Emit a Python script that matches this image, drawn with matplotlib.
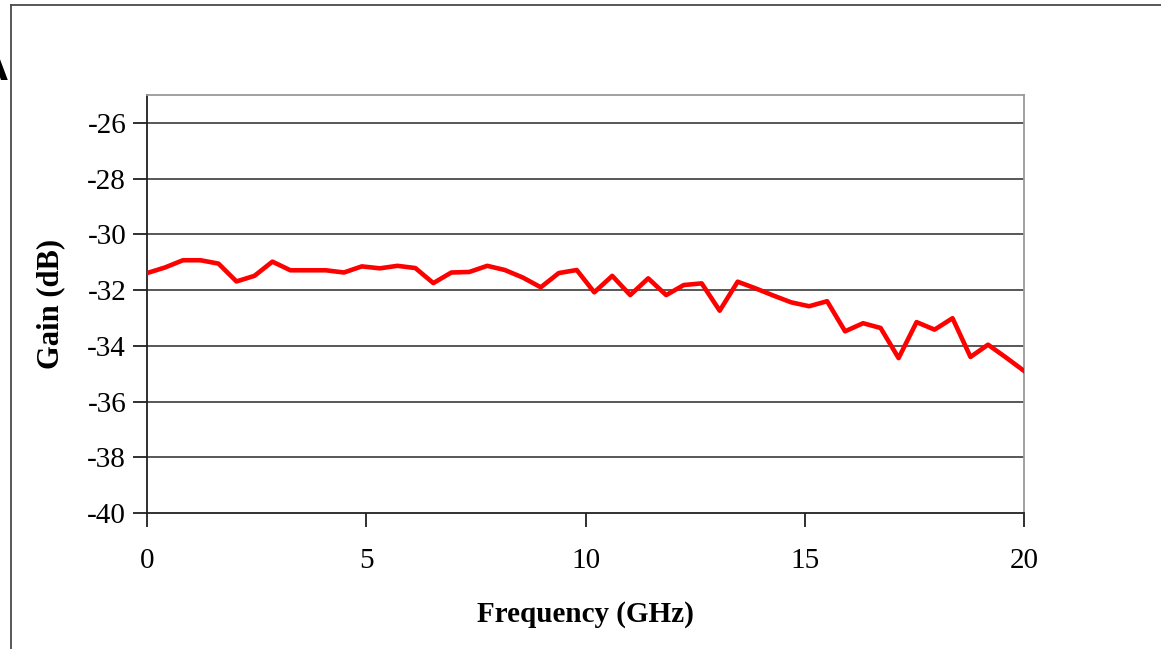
"""Gain vs frequency (0-20 GHz), redrawn from a scanned Excel-style chart."""

import matplotlib
matplotlib.use("Agg")
import matplotlib.pyplot as plt  # noqa: E402
from matplotlib.lines import Line2D  # noqa: E402

# sweep points (GHz), 50 evenly spaced samples over 0-20 GHz
freq_ghz = [0.00, 0.41, 0.82, 1.22, 1.63, 2.04, 2.45, 2.86, 3.27, 3.67,
            4.08, 4.49, 4.90, 5.31, 5.71, 6.12, 6.53, 6.94, 7.35, 7.76,
            8.16, 8.57, 8.98, 9.39, 9.80, 10.20, 10.61, 11.02, 11.43, 11.84,
            12.24, 12.65, 13.06, 13.47, 13.88, 14.29, 14.69, 15.10, 15.51, 15.92,
            16.33, 16.73, 17.14, 17.55, 17.96, 18.37, 18.78, 19.18, 19.59, 20.00]

gain_db = [-31.39, -31.19, -30.93, -30.93, -31.05, -31.69, -31.49, -30.98, -31.29, -31.29,
           -31.29, -31.37, -31.15, -31.22, -31.13, -31.21, -31.75, -31.37, -31.35, -31.13,
           -31.28, -31.55, -31.90, -31.39, -31.28, -32.08, -31.49, -32.18, -31.58, -32.18,
           -31.82, -31.76, -32.74, -31.70, -31.94, -32.20, -32.44, -32.58, -32.40, -33.48,
           -33.19, -33.36, -34.44, -33.15, -33.42, -33.01, -34.40, -33.96, -34.42, -34.90]

x_ticks = [0, 5, 10, 15, 20]
y_ticks = [-40, -38, -36, -34, -32, -30, -28, -26]

W, H = 1161, 649
SERIF = ["Liberation Serif", "DejaVu Serif"]

fig = plt.figure(figsize=(W / 100, H / 100), dpi=100)
ax = fig.add_axes([147 / W, 1 - 513 / H, (1024 - 147) / W, (513 - 95) / H])

ax.plot(freq_ghz, gain_db, color="#ff0000", lw=3.3, solid_joinstyle="round", zorder=3)

ax.set_xlim(0, 20)
ax.set_ylim(-40, -25)
ax.set_xticks(x_ticks)
ax.set_yticks(y_ticks)
ax.set_xticklabels([str(t) for t in x_ticks], family=SERIF, fontsize=21)
ax.set_yticklabels([str(t) for t in y_ticks], family=SERIF, fontsize=21)
ax.tick_params(axis="both", direction="out", length=10, width=1.3, color="#202020")
ax.tick_params(axis="y", pad=5)
ax.tick_params(axis="x", pad=15)

for y in y_ticks[1:]:
    ax.axhline(y, color="#4a4a4a", lw=1.3, zorder=1)

for side in ("left", "bottom"):
    ax.spines[side].set_color("#202020")
    ax.spines[side].set_linewidth(1.3)
for side in ("top", "right"):
    ax.spines[side].set_color("#9a9a9a")
    ax.spines[side].set_linewidth(1.3)

ax.set_xlabel("Frequency (GHz)", family=SERIF, fontsize=21, fontweight="bold", labelpad=20)
ax.set_ylabel("Gain (dB)", family=SERIF, fontsize=22, fontweight="bold", labelpad=16)

# outer frame of the scanned page (left and top edges only are visible)
fig.add_artist(Line2D([10.5 / W, 10.5 / W], [0, 1 - 5 / H], transform=fig.transFigure,
                      color="#4a4a4a", lw=1.3))
fig.add_artist(Line2D([10.5 / W, 1], [1 - 5 / H, 1 - 5 / H], transform=fig.transFigure,
                      color="#4a4a4a", lw=1.3))
# cut-off panel letter at the left edge, as in the scan
fig.text(8 / W, 1 - 80 / H, "A", ha="right", va="baseline", fontsize=26,
         fontweight="bold", family="DejaVu Sans")

fig.savefig("out.png", dpi=100)
